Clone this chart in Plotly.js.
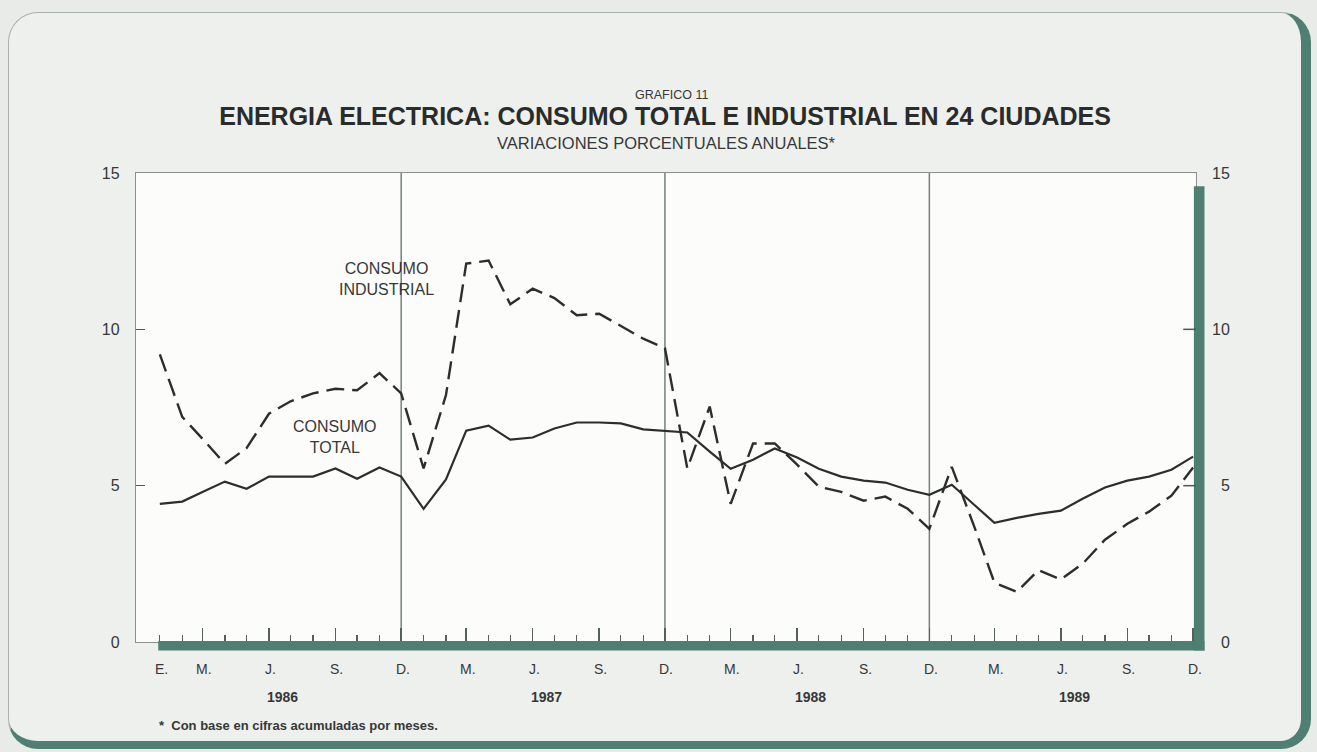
<!DOCTYPE html>
<html><head><meta charset="utf-8">
<script src="https://cdn.plot.ly/plotly-3.0.1.min.js"></script>
<style>
html,body{margin:0;padding:0;background:#e8ebe8;width:1317px;height:752px;overflow:hidden;}
#panel{position:absolute;left:8px;top:12px;width:1292px;height:728px;background:#eef0ed;border-left:1.5px solid #a9b2ae;border-top:1.5px solid #a9b2ae;border-right:10px solid #4f7e73;border-bottom:8px solid #4f7e73;border-radius:30px;}
#chart{position:absolute;left:0;top:0;width:1317px;height:752px;}
</style></head><body>
<div id="panel"></div>
<div id="chart"></div>
<script>
// ---- data ----
const years = [1986, 1987, 1988, 1989];
const monthNumbers = [1,2,3,4,5,6,7,8,9,10,11,12];
const consumoTotal = [
  4.42,4.49,4.80,5.13,4.90,5.29,5.29,5.29,5.55,5.22,5.58,5.29,
  4.26,5.20,6.76,6.92,6.47,6.54,6.83,7.02,7.02,6.99,6.80,6.76,
  6.70,6.09,5.54,5.83,6.19,5.90,5.54,5.29,5.16,5.10,4.87,4.71,
  5.03,4.39,3.81,3.97,4.10,4.20,4.58,4.94,5.16,5.29,5.51,5.93];
const consumoIndustrial = [
  9.20,7.20,6.50,5.70,6.20,7.30,7.70,7.95,8.10,8.05,8.60,7.95,
  5.55,7.90,12.10,12.20,10.80,11.30,11.00,10.45,10.50,10.10,9.70,9.40,
  5.55,7.53,4.42,6.35,6.35,5.67,4.97,4.80,4.52,4.65,4.26,3.62,
  5.60,3.70,1.90,1.60,2.30,2.00,2.50,3.27,3.78,4.17,4.68,5.58];
const monthLabelMonths = [1,3,6,9,12];          // first year
const monthLabelText1986 = ["E.","M.","J.","S.","D."];
const monthLabelMonthsOther = [3,6,9,12];
const monthLabelTextOther = ["M.","J.","S.","D."];
const quarterMonths = [3,6,9,12];
const dividerDates = ["1986-12-01","1987-12-01","1988-12-01"];
const yTicks = [0,5,10,15];
const yTickText = ["0","5","10","15"];

const pad = n => (n<10?"0":"")+n;
const months = [];
years.forEach(y => monthNumbers.forEach(m => months.push(y+"-"+pad(m)+"-01")));
const quarterDates = [];
years.forEach(y => quarterMonths.forEach(m => quarterDates.push(y+"-"+pad(m)+"-01")));

const FONT = "Liberation Sans, Arial, sans-serif";
const TXT = "#363838";
const TEAL = "#4f7e73";

const traces = [
  {x: months, y: consumoTotal, type:"scatter", mode:"lines", name:"CONSUMO TOTAL",
   line:{color:"#2c2d2d", width:2.2}, hoverinfo:"x+y"},
  {x: months, y: consumoIndustrial, type:"scatter", mode:"lines", name:"CONSUMO INDUSTRIAL",
   line:{color:"#2c2d2d", width:2.4, dash:"18px,8px"}, hoverinfo:"x+y"}
];

const annotations = [];
// month labels
years.forEach((y,i) => {
  const ms = i===0 ? monthLabelMonths : monthLabelMonthsOther;
  const tx = i===0 ? monthLabelText1986 : monthLabelTextOther;
  ms.forEach((m,j) => annotations.push({x: y+"-"+pad(m)+"-03", xref:"x", y:-0.058, yref:"paper",
    text: tx[j], showarrow:false, xanchor:"center", yanchor:"middle",
    font:{family:FONT, size:14, color:TXT}}));
  annotations.push({x: y+"-06-20", xref:"x", y:-0.117, yref:"paper", text: String(y), showarrow:false,
    xanchor:"center", yanchor:"middle", font:{family:FONT, size:14, color:TXT, weight:"bold"}});
});
// right-hand tick labels
yTicks.forEach((v,i) => annotations.push({x:1.034, xref:"paper", y:v, yref:"y", text:yTickText[i],
  showarrow:false, xanchor:"right", yanchor:"middle", font:{family:FONT, size:16, color:TXT}}));
// series labels
annotations.push({x:"1986-11-10", xref:"x", y:11.6, yref:"y", text:"CONSUMO<br>INDUSTRIAL", showarrow:false,
  align:"center", xanchor:"center", yanchor:"middle", font:{family:FONT, size:16, color:TXT}});
annotations.push({x:"1986-09-01", xref:"x", y:6.55, yref:"y", text:"CONSUMO<br>TOTAL", showarrow:false,
  align:"center", xanchor:"center", yanchor:"middle", font:{family:FONT, size:16, color:TXT}});
// headings
annotations.push({x:0.505, xref:"paper", y:(642-95)/469, yref:"paper", text:"GRAFICO 11", showarrow:false,
  xanchor:"center", yanchor:"middle", font:{family:FONT, size:12.5, color:TXT}});
annotations.push({x:0.5, xref:"paper", y:(642-143)/469, yref:"paper", text:"VARIACIONES PORCENTUALES ANUALES*", showarrow:false,
  xanchor:"center", yanchor:"middle", font:{family:FONT, size:16.5, color:TXT}});
// footnote
annotations.push({x:0.02, xref:"paper", y:-0.178, yref:"paper", text:"*  Con base en cifras acumuladas por meses.",
  showarrow:false, xanchor:"left", yanchor:"middle", font:{family:FONT, size:13, color:TXT, weight:"bold"}});

const shapes = [];
dividerDates.forEach(d => shapes.push({type:"line", xref:"x", x0:d, x1:d, yref:"paper", y0:0, y1:1,
  line:{color:"#74817e", width:1.5}, layer:"below"}));
// teal frame bars (bottom and right)
shapes.push({type:"rect", xref:"paper", x0:0.021, x1:1.008, yref:"paper", y0:-0.018, y1:0.002,
  fillcolor:TEAL, line:{width:0}});
shapes.push({type:"rect", xref:"paper", x0:0.998, x1:1.008, yref:"paper", y0:-0.018, y1:0.972,
  fillcolor:TEAL, line:{width:0}});
// right-hand inner ticks
yTicks.slice(1,3).forEach(v => shapes.push({type:"line", xref:"paper", x0:0.988, x1:1.0, yref:"y", y0:v, y1:v,
  line:{color:"#555", width:1.5}}));

const layout = {
  width:1317, height:752,
  margin:{l:136, r:121, t:173, b:110},
  paper_bgcolor:"rgba(0,0,0,0)", plot_bgcolor:"#fcfcfb",
  showlegend:false,
  title:{text:"<b>ENERGIA ELECTRICA: CONSUMO TOTAL E INDUSTRIAL EN 24 CIUDADES</b>",
    xref:"container", x:0.505, xanchor:"center", yref:"container", y:1-116/752, yanchor:"middle",
    font:{family:FONT, size:25, color:"#2a2b2b"}},
  xaxis:{type:"date", range:["1985-11-29","1989-12-05"], showgrid:false, zeroline:false,
    showline:true, mirror:true, linecolor:"#8a908e", linewidth:1.2,
    ticks:"inside", tickmode:"array", tickvals:quarterDates, ticklen:14, tickwidth:1.5, tickcolor:"#55605d",
    showticklabels:false,
    minor:{ticks:"inside", tickmode:"array", tickvals:months, ticklen:7, tickwidth:1.3, tickcolor:"#55605d", showgrid:false}},
  yaxis:{range:[0,15], showgrid:false, zeroline:false, showline:true, mirror:true, linecolor:"#8a908e", linewidth:1.2,
    tickmode:"array", tickvals:yTicks, ticktext:yTickText, ticks:"inside", ticklen:9, tickwidth:1.5, tickcolor:"#555",
    ticklabelstandoff:12, tickfont:{family:FONT, size:16, color:TXT}},
  annotations, shapes
};
Plotly.newPlot("chart", traces, layout, {displayModeBar:false, staticPlot:true});
</script></body></html>
